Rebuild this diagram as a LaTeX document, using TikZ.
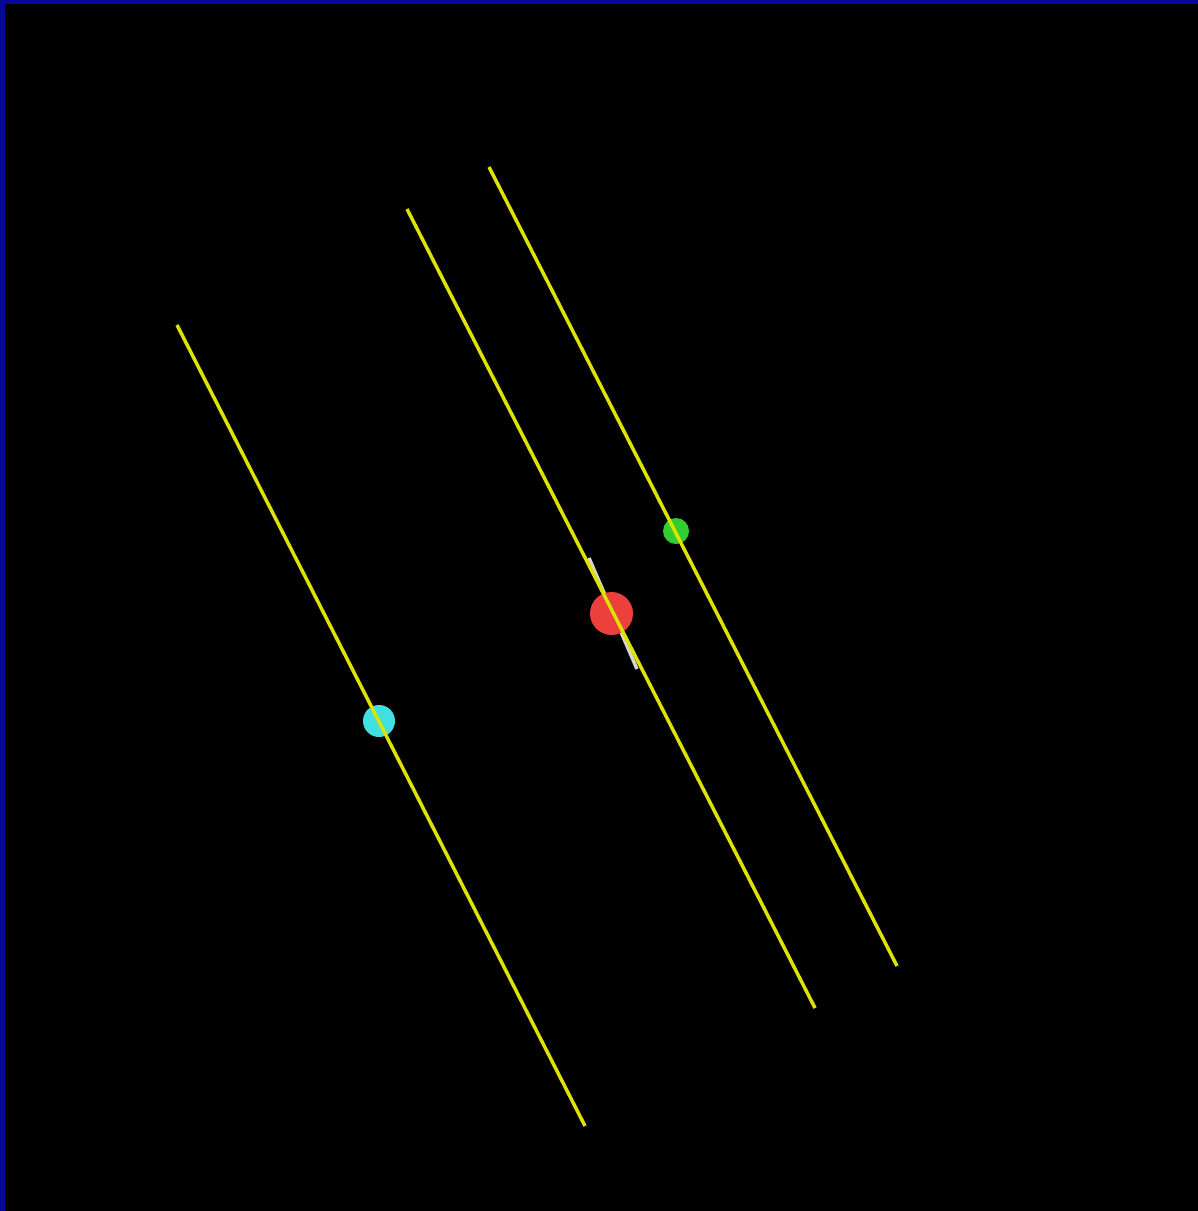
\documentclass[tikz,border=0pt]{standalone}
\definecolor{bordblue}{RGB}{8,8,150}
\definecolor{lineyellow}{RGB}{222,226,0}
\definecolor{dotcyan}{RGB}{64,224,224}
\definecolor{dotgreen}{RGB}{50,205,50}
\definecolor{dotred}{RGB}{236,64,60}
\definecolor{segwhite}{RGB}{215,215,200}
\begin{document}
\begin{tikzpicture}[x=1pt,y=-1pt,
  yline/.style={draw=lineyellow,line width=3.5pt},
  dot/.style={circle,inner sep=0pt,draw=none}]
\useasboundingbox (0,0) rectangle (1198,1211);
\fill[bordblue] (0,0) rectangle (1198,1211);
\fill[black] (5,4) rectangle (1198,1211);
% white segment
\draw[segwhite,line width=3.5pt] (589,558) -- (637,669);
% dots
\node[dot,fill=dotcyan,minimum size=32pt] (c) at (379,721) {};
\node[dot,fill=dotgreen,minimum size=26pt] (g) at (676,531) {};
\node[dot,fill=dotred,minimum size=43pt] (r) at (611.5,613.5) {};
% yellow lines
\draw[yline] (177,325) -- (585,1126);
\draw[yline] (407,209) -- (815,1008);
\draw[yline] (489,167) -- (897,966);
\end{tikzpicture}
\end{document}
